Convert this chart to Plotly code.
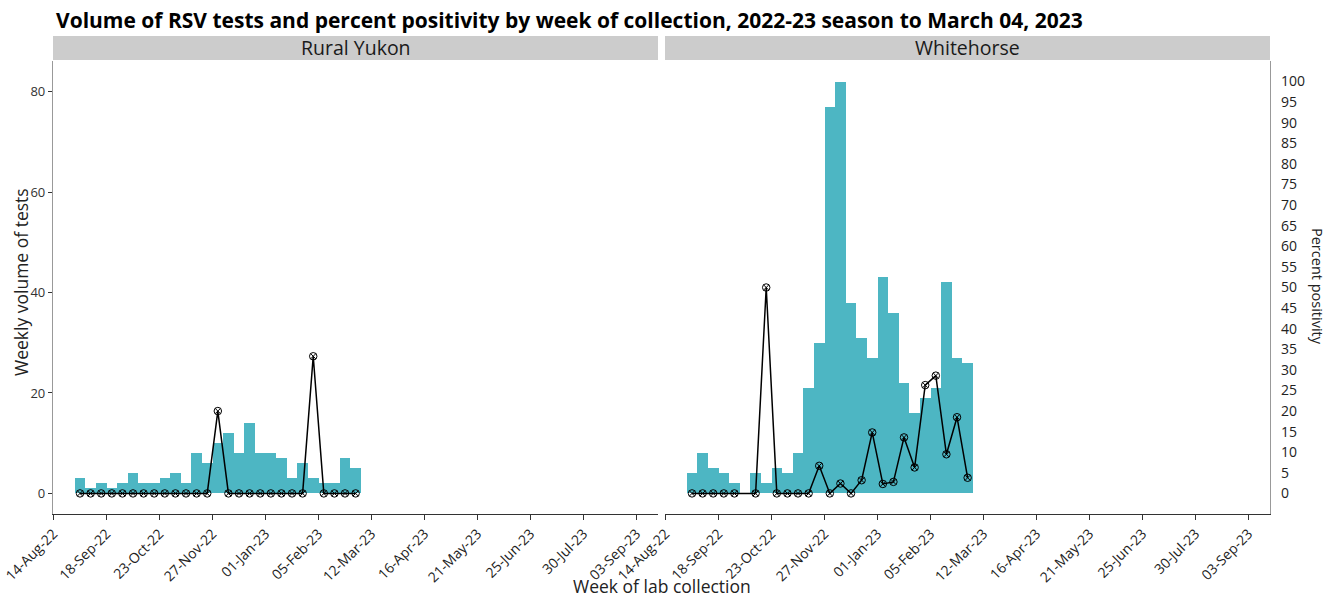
import pandas as pd
import plotly.graph_objects as go

# ---------------- data ----------------
week_start = ["2022-08-28", "2022-09-04", "2022-09-11", "2022-09-18", "2022-09-25",
              "2022-10-02", "2022-10-09", "2022-10-16", "2022-10-23", "2022-10-30",
              "2022-11-06", "2022-11-13", "2022-11-20", "2022-11-27", "2022-12-04",
              "2022-12-11", "2022-12-18", "2022-12-25", "2023-01-01", "2023-01-08",
              "2023-01-15", "2023-01-22", "2023-01-29", "2023-02-05", "2023-02-12",
              "2023-02-19", "2023-02-26"]

rural_tests = [3, 1, 2, 1, 2, 4, 2, 2, 3, 4, 2, 8, 6, 10, 12, 8, 14, 8, 8, 7, 3, 6, 3, 2, 2, 7, 5]
rural_pct = [0, 0, 0, 0, 0, 0, 0, 0, 0, 0, 0, 0, 0, 20, 0, 0, 0, 0, 0, 0, 0, 0, 33.3, 0, 0, 0, 0]

whse_tests = [4, 8, 5, 4, 2, None, 4, 2, 5, 4, 8, 21, 30, 77, 82, 38, 31, 27, 43, 36, 22, 16, 19, 21, 42, 27, 26]
whse_pct = [0, 0, 0, 0, 0, None, 0, 50, 0, 0, 0, 0, 6.7, 0, 2.4, 0, 3.2, 14.8, 2.3, 2.8, 13.6, 6.3, 26.3, 28.6, 9.5, 18.5, 3.8]

panels = ["Rural Yukon", "Whitehorse"]
title = "Volume of RSV tests and percent positivity by week of collection, 2022-23 season to March 04, 2023"
left_ticks = [0, 20, 40, 60, 80]
pct_ticks = list(range(0, 101, 5))

# week centres (middle of each collection week)
centres = pd.to_datetime(week_start) + pd.Timedelta(hours=84)

# ---------------- styling ----------------
FONT = "Open Sans"
BAR = "#4DB6C3"
W, H = 1329, 598
WEEK_MS = 7 * 24 * 3600 * 1000

def px_x(p):
    return p / W

def px_y(p):
    return 1 - p / H

xl = [px_x(53), px_x(658)]
xr = [px_x(665), px_x(1270)]
yd = [px_y(514), px_y(61)]

tests_range = [-4.1, 86.1]
pct_range = [-5, 105]
x_range = ["2022-08-13 16:00", "2023-09-17 04:00"]

fig = go.Figure()

mk = dict(symbol="circle-x-open", size=7.5, color="black", line=dict(width=1))

fig.add_trace(go.Bar(x=centres, y=rural_tests, width=WEEK_MS, marker_color=BAR,
                     marker_line_width=0, xaxis="x", yaxis="y", showlegend=False))
fig.add_trace(go.Scatter(x=centres, y=rural_pct, mode="lines+markers",
                         line=dict(color="black", width=1.5), marker=mk,
                         xaxis="x", yaxis="y3", showlegend=False))
fig.add_trace(go.Bar(x=centres, y=whse_tests, width=WEEK_MS, marker_color=BAR,
                     marker_line_width=0, xaxis="x2", yaxis="y2", showlegend=False))
fig.add_trace(go.Scatter(x=centres, y=whse_pct, mode="lines+markers", connectgaps=True,
                         line=dict(color="black", width=1.5), marker=mk,
                         xaxis="x2", yaxis="y4", showlegend=False))

xcommon = dict(type="date", range=x_range, tick0="2022-08-14", dtick=35 * 86400000,
               tickformat="%d-%b-%y", tickangle=-45, showgrid=False, zeroline=False,
               showline=True, linecolor="#333333", linewidth=1.2, ticks="outside",
               ticklen=5, tickcolor="#333333", automargin=False,
               tickfont=dict(family=FONT, size=14, color="#222222"))

fig.update_layout(
    width=W, height=H,
    margin=dict(l=0, r=0, t=0, b=0),
    paper_bgcolor="white", plot_bgcolor="white",
    bargap=0, barmode="overlay",
    font=dict(family=FONT, color="#222222"),
    xaxis=dict(domain=xl, anchor="y", **xcommon),
    xaxis2=dict(domain=xr, anchor="y2", **xcommon),
    yaxis=dict(domain=yd, anchor="x", range=tests_range, tickvals=left_ticks,
               showgrid=False, zeroline=False, showline=True, linecolor="#999999",
               linewidth=1.2, ticks="outside", ticklen=4, tickcolor="#333333",
               automargin=False,
               tickfont=dict(family=FONT, size=13, color="#333333")),
    yaxis2=dict(domain=yd, anchor="x2", range=tests_range, visible=False,
                automargin=False),
    yaxis3=dict(overlaying="y", anchor="x", range=pct_range, visible=False,
                automargin=False),
    yaxis4=dict(overlaying="y2", anchor="x2", side="right", range=pct_range,
                tickvals=pct_ticks, showgrid=False, zeroline=False, showline=True,
                linecolor="#999999", linewidth=1.2, ticks="outside", ticklen=7,
                tickcolor="rgba(0,0,0,0)", automargin=False,
                tickfont=dict(family=FONT, size=14, color="#222222")),
)

# facet strips
for name, dom in zip(panels, [xl, xr]):
    fig.add_shape(type="rect", xref="paper", yref="paper", x0=dom[0], x1=dom[1],
                  y0=px_y(60), y1=px_y(36), fillcolor="#CCCCCC", line_width=0,
                  layer="below")
    fig.add_annotation(text=name, xref="paper", yref="paper", x=(dom[0] + dom[1]) / 2,
                       y=px_y(48), showarrow=False, xanchor="center", yanchor="middle",
                       font=dict(family=FONT, size=19.5, color="#1a1a1a"))

# titles
fig.add_annotation(text="<b>" + title + "</b>", xref="paper", yref="paper",
                   x=px_x(54), y=px_y(20), xanchor="left", yanchor="middle",
                   showarrow=False, font=dict(family=FONT, size=21, color="black"))
fig.add_annotation(text="Week of lab collection", xref="paper", yref="paper",
                   x=px_x(662), y=px_y(586), xanchor="center", yanchor="middle",
                   showarrow=False, font=dict(family=FONT, size=17.5, color="#222222"))
fig.add_annotation(text="Weekly volume of tests", xref="paper", yref="paper",
                   x=px_x(21), y=px_y(282), xanchor="center", yanchor="middle",
                   textangle=-90, showarrow=False,
                   font=dict(family=FONT, size=17.5, color="#222222"))
fig.add_annotation(text="Percent positivity", xref="paper", yref="paper",
                   x=px_x(1318), y=px_y(286), xanchor="center", yanchor="middle",
                   textangle=90, showarrow=False,
                   font=dict(family=FONT, size=14.5, color="#222222"))

fig.write_html("out.html", config={"displayModeBar": False},
               post_script="document.body.style.margin='0';document.body.style.overflow='hidden';")
